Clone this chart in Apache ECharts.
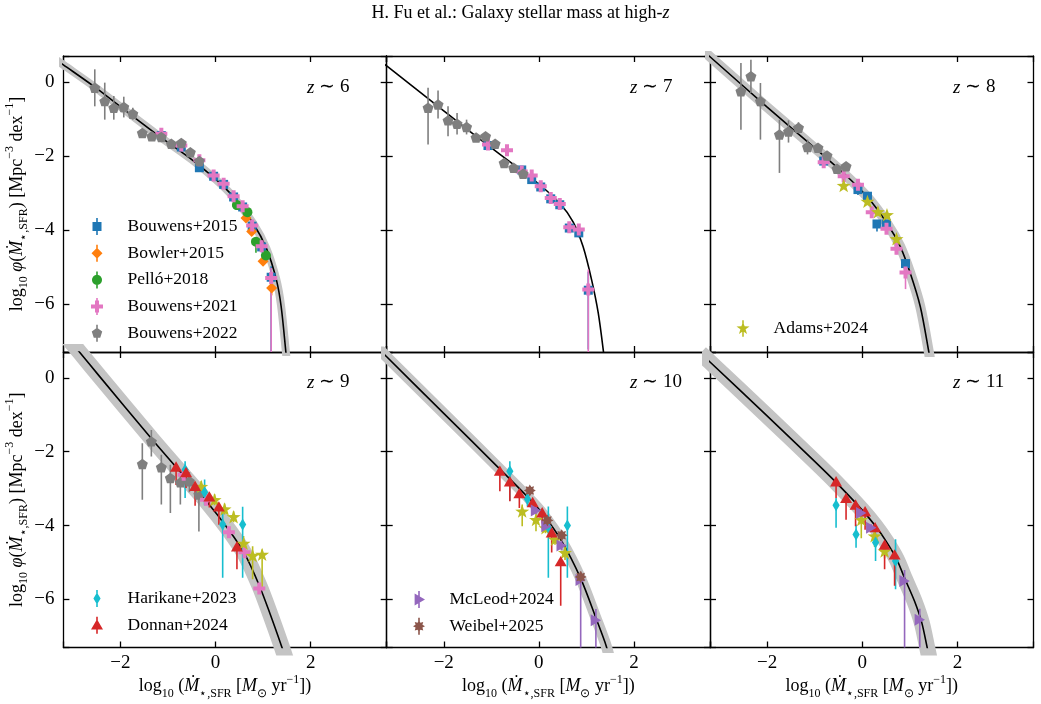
<!DOCTYPE html>
<html>
<head>
<meta charset="utf-8">
<script src="https://cdn.jsdelivr.net/npm/echarts@6/dist/echarts.min.js"></script>
<style>html,body{margin:0;padding:0;background:#fff}#chart{width:1041px;height:704px}</style>
</head>
<body>
<div id="chart"></div>
<script>
// model curves [log SFR, log phi]
const curve_z6 = [[-3.4,0.64],[-3.2,0.46],[-2.55,-0.13],[-1.9,-0.77],[-1.17,-1.48],[-0.5,-2.1],[0.0,-2.63],[0.37,-3.10],[0.79,-3.82],[1.07,-4.50],[1.28,-5.35],[1.38,-6.07],[1.48,-7.31],[1.51,-7.7]];
const curve_z7 = [[-3.4,0.63],[-3.2,0.43],[-2.2,-0.58],[-1.31,-1.48],[-0.40,-2.36],[0.02,-2.78],[0.44,-3.28],[0.72,-3.78],[0.93,-4.45],[1.11,-5.35],[1.25,-6.25],[1.36,-7.3],[1.39,-7.7]];
const curve_z8 = [[-3.4,0.9],[-3.2,0.68],[-2.01,-0.67],[-0.95,-1.84],[-0.39,-2.47],[0.10,-3.10],[0.52,-3.82],[0.80,-4.45],[1.01,-5.17],[1.22,-6.07],[1.40,-7.3],[1.45,-7.7]];
const curve_z9 = [[-3.3,1.38],[-2.85,0.68],[-2.44,0.04],[-1.35,-1.64],[-0.69,-2.62],[-0.2,-3.33],[0.28,-4.12],[0.61,-4.76],[0.92,-5.62],[1.15,-6.40],[1.39,-7.27],[1.5,-7.7]];
const curve_z10 = [[-3.4,0.83],[-3.2,0.57],[-2.0,-0.96],[-0.82,-2.47],[-0.24,-3.22],[0.07,-3.66],[0.48,-4.42],[0.88,-5.43],[1.2,-6.5],[1.42,-7.27],[1.5,-7.7]];
const curve_z11 = [[-3.4,0.67],[-3.2,0.43],[-2.0,-1.03],[-1.0,-2.26],[-0.55,-2.83],[0.0,-3.58],[0.27,-4.0],[0.5,-4.42],[0.72,-4.90],[0.9,-5.45],[1.1,-6.05],[1.25,-6.62],[1.36,-7.27],[1.43,-7.7]];

// observations [x, y, errDown, errUp]
const bouwens15_z6 = [[-1.14,-1.45,0.08,0.08],[-0.72,-1.76,0.08,0.08],[-0.34,-2.32,0.08,0.08],[-0.04,-2.55,0.08,0.08],[0.17,-2.77,0.08,0.08],[0.38,-3.11,0.08,0.08],[0.57,-3.38,0.1,0.1],[0.77,-3.90,0.12,0.12],[0.97,-4.46,0.15,0.15],[1.17,-5.28,3.0,0.3]];
const bowler15_z6 = [[0.64,-3.68,0.1,0.1],[0.76,-4.04,0.1,0.1],[1.0,-4.85,0.12,0.12],[1.18,-5.57,0.2,0.2]];
const pello18_z6 = [[0.45,-3.33,0.1,0.1],[0.67,-3.52,0.1,0.1],[0.85,-4.32,0.3,0.1],[1.06,-4.69,0.15,0.15]];
const bouwens21_z6 = [[-1.14,-1.40,0.08,0.08],[-0.72,-1.72,0.08,0.08],[-0.34,-2.12,0.08,0.08],[-0.04,-2.53,0.08,0.08],[0.17,-2.75,0.08,0.08],[0.38,-3.09,0.08,0.08],[0.57,-3.36,0.1,0.1],[0.77,-3.88,0.1,0.1],[0.97,-4.44,0.12,0.12],[1.17,-5.30,3.0,0.27]];
const bouwens22_z6 = [[-2.54,-0.16,0.5,0.5],[-2.33,-0.52,0.5,0.5],[-2.14,-0.70,0.32,0.32],[-1.93,-0.68,0.28,0.28],[-1.74,-0.86,0.16,0.16],[-1.54,-1.38,0.1,0.1],[-1.34,-1.47,0.1,0.1],[-1.14,-1.49,0.08,0.08],[-0.93,-1.67,0.08,0.08],[-0.72,-1.65,0.1,0.1],[-0.53,-1.90,0.08,0.08],[-0.34,-2.14,0.1,0.1]];

const bouwens15_z7 = [[-1.07,-1.72,0.1,0.1],[-0.36,-2.38,0.08,0.08],[-0.15,-2.64,0.08,0.08],[0.04,-2.84,0.08,0.08],[0.25,-3.16,0.08,0.08],[0.44,-3.32,0.08,0.08],[0.64,-3.95,0.1,0.1],[0.84,-4.08,0.12,0.12],[1.04,-5.63,1.6,0.5]];
const bouwens21_z7 = [[-1.07,-1.69,0.1,0.1],[-0.67,-1.85,0.08,0.08],[-0.36,-2.42,0.08,0.08],[-0.15,-2.53,0.08,0.08],[0.04,-2.82,0.08,0.08],[0.25,-3.14,0.08,0.08],[0.44,-3.30,0.08,0.08],[0.64,-3.93,0.1,0.1],[0.84,-3.99,0.1,0.1],[1.04,-5.61,2.2,0.54]];
const bouwens22_z7 = [[-2.33,-0.70,0.99,0.54],[-2.12,-0.61,0.38,0.38],[-1.91,-1.04,0.43,0.38],[-1.72,-1.13,0.29,0.29],[-1.52,-1.22,0.2,0.2],[-1.32,-1.50,0.1,0.1],[-1.12,-1.47,0.1,0.1],[-0.92,-1.67,0.08,0.08],[-0.73,-2.19,0.08,0.08],[-0.53,-2.32,0.08,0.08],[-0.33,-2.48,0.08,0.08]];

const bouwens15_z8 = [[-0.81,-2.14,0.1,0.1],[-0.09,-2.91,0.15,0.1],[0.11,-3.09,0.08,0.08],[0.31,-3.84,0.2,0.1],[0.51,-3.84,0.1,0.1],[0.91,-4.91,0.1,0.1]];
const bouwens21_z8 = [[-0.81,-2.17,0.12,0.1],[-0.39,-2.55,0.1,0.1],[-0.09,-2.78,0.1,0.1],[0.20,-3.52,0.1,0.1],[0.51,-3.97,0.1,0.1],[0.72,-4.51,0.15,0.1],[0.91,-5.15,0.45,0.1]];
const bouwens22_z8 = [[-2.55,-0.25,1.04,0.76],[-2.34,0.15,0.45,0.45],[-2.14,-0.52,1.04,0.49],[-1.74,-1.42,1.04,0.4],[-1.55,-1.34,0.3,0.3],[-1.34,-1.24,0.15,0.15],[-1.15,-1.76,0.2,0.2],[-0.93,-1.78,0.1,0.1],[-0.74,-1.99,0.1,0.1],[-0.53,-2.35,0.1,0.1],[-0.34,-2.28,0.1,0.1]];
const adams24_z8 = [[-0.39,-2.80,0.1,0.1],[0.11,-3.23,0.1,0.1],[0.33,-3.51,0.1,0.1],[0.52,-3.59,0.1,0.1],[0.72,-4.24,0.1,0.1]];

const bouwens22_z9 = [[-1.54,-2.33,0.97,0.56],[-1.35,-1.72,0.41,0.31],[-1.14,-2.42,1.01,0.34],[-0.95,-2.71,0.95,0.36],[-0.74,-2.83,0.6,0.25],[-0.55,-2.80,0.3,0.25],[-0.35,-3.16,1.0,0.2]];
const bouwens21_z9 = [[-0.67,-2.62,0.15,0.15],[-0.20,-3.30,0.15,0.15],[0.28,-4.18,0.15,0.15],[0.61,-4.72,0.15,0.15],[0.92,-5.70,0.15,0.15]];
const adams24_z9 = [[-0.30,-2.94,0.15,0.15],[-0.02,-3.30,0.15,0.15],[0.19,-3.55,0.15,0.15],[0.38,-3.76,0.15,0.15],[0.59,-4.48,0.2,0.2],[0.78,-4.81,0.64,0.25],[0.98,-4.78,0.94,0.13]];
const harikane23_z9 = [[-0.64,-2.49,0.76,0.23],[-0.23,-3.1,0.35,0.35],[0.15,-3.97,1.44,0.45],[0.57,-3.97,1.44,0.48]];
const donnan24_z9 = [[-0.83,-2.40,0.5,0.05],[-0.62,-2.55,0.43,0.05],[-0.43,-2.92,0.54,0.05],[-0.13,-3.21,0.3,0.05],[0.07,-3.48,0.5,0.05],[0.45,-4.56,0.62,0.05]];

const adams24_z10 = [[-0.35,-3.61,0.41,0.18],[-0.06,-3.84,0.31,0.15],[0.14,-4.06,0.15,0.15],[0.34,-4.37,0.15,0.15],[0.55,-4.73,0.2,0.15]];
const harikane23_z10 = [[-0.61,-2.53,0.8,0.27],[-0.24,-3.28,0.2,0.2],[0.20,-4.05,1.36,0.57],[0.60,-4.0,1.41,0.52]];
const donnan24_z10 = [[-0.82,-2.51,0.56,0.05],[-0.61,-2.80,0.54,0.05],[-0.41,-3.12,0.4,0.05],[-0.13,-3.36,0.3,0.05],[0.07,-3.64,0.3,0.05],[0.27,-4.18,0.55,0.05],[0.46,-4.96,1.21,0.05]];
const mcleod24_z10 = [[-0.06,-3.59,0.1,0.1],[0.16,-4.02,0.1,0.1],[0.48,-4.54,0.12,0.12],[0.88,-5.47,2.0,0.2],[1.20,-6.56,1.0,0.3]];
const weibel25_z10 = [[-0.19,-3.05,0.12,0.12],[0.18,-3.86,0.12,0.12],[0.48,-4.26,0.12,0.12],[0.88,-5.39,0.15,0.15]];

const adams24_z11 = [[-0.02,-3.84,0.5,0.1],[0.26,-4.28,0.3,0.1],[0.47,-4.69,0.2,0.1]];
const harikane23_z11 = [[-0.55,-3.45,0.61,0.2],[-0.13,-4.24,0.36,0.27],[0.28,-4.46,0.5,0.27],[0.70,-4.96,0.76,0.59]];
const donnan24_z11 = [[-0.55,-2.80,0.45,0.05],[-0.34,-3.25,0.59,0.05],[-0.14,-3.43,0.59,0.05],[0.06,-3.61,0.5,0.05],[0.27,-4.04,0.4,0.05],[0.47,-4.51,0.67,0.05],[0.68,-4.78,0.85,0.05]];
const mcleod24_z11 = [[-0.02,-3.66,0.1,0.1],[0.19,-4.06,0.1,0.1],[0.89,-5.50,2.0,0.3],[1.21,-6.55,1.0,0.3]];

const FONT = 'Liberation Serif';

function starPts(n, inner) {
  const pts = [];
  for (let k = 0; k < 2 * n; k++) {
    const a = -Math.PI / 2 + k * Math.PI / n;
    const r = k % 2 ? inner : 1;
    pts.push([r * Math.cos(a), r * Math.sin(a)]);
  }
  return pts;
}
function ngon(n) {
  const pts = [];
  for (let k = 0; k < n; k++) {
    const a = -Math.PI / 2 + k * 2 * Math.PI / n;
    pts.push([Math.cos(a), Math.sin(a)]);
  }
  return pts;
}
function poly(pts, r) {
  return pts.map((p, i) => (i ? 'L' : 'M') + (p[0] * r).toFixed(2) + ',' + (p[1] * r).toFixed(2)).join('') + 'Z';
}

const shapes = {
  square: [[-1,-1],[1,-1],[1,1],[-1,1]],
  diamond: [[0,-1],[1,0],[0,1],[-1,0]],
  thinDiamond: [[0,-1],[0.6,0],[0,1],[-0.6,0]],
  circle: ngon(24),
  plus: [[-1,-3],[1,-3],[1,-1],[3,-1],[3,1],[1,1],[1,3],[-1,3],[-1,1],[-3,1],[-3,-1],[-1,-1]].map(p => [p[0]/3, p[1]/3]),
  pentagon: ngon(5),
  star5: starPts(5, 0.4),
  star8: starPts(8, 0.62),
  triUp: [[0,-1],[1,0.73],[-1,0.73]],
  triRight: [[1,0],[-0.73,1],[-0.73,-1]]
};

const surveys = {
  'Bouwens+2015': {color: '#1f77b4', shape: 'square', size: 9},
  'Bowler+2015': {color: '#ff7f0e', shape: 'diamond', size: 11},
  'Pelló+2018': {color: '#2ca02c', shape: 'circle', size: 10},
  'Bouwens+2021': {color: '#e377c2', shape: 'plus', size: 12},
  'Bouwens+2022': {color: '#7f7f7f', shape: 'pentagon', size: 11},
  'Adams+2024': {color: '#bcbd22', shape: 'star5', size: 14},
  'Harikane+2023': {color: '#17becf', shape: 'thinDiamond', size: 12},
  'Donnan+2024': {color: '#d62728', shape: 'triUp', size: 12},
  'McLeod+2024': {color: '#9467bd', shape: 'triRight', size: 12},
  'Weibel+2025': {color: '#8c564b', shape: 'star8', size: 12}
};

const panels = [
  {label: '6', curve: curve_z6, band: 8, sets: [['Bouwens+2015', bouwens15_z6], ['Bowler+2015', bowler15_z6], ['Pelló+2018', pello18_z6], ['Bouwens+2021', bouwens21_z6], ['Bouwens+2022', bouwens22_z6]]},
  {label: '7', curve: curve_z7, band: 0, sets: [['Bouwens+2015', bouwens15_z7], ['Bouwens+2021', bouwens21_z7], ['Bouwens+2022', bouwens22_z7]]},
  {label: '8', curve: curve_z8, band: 10, sets: [['Bouwens+2015', bouwens15_z8], ['Bouwens+2021', bouwens21_z8], ['Bouwens+2022', bouwens22_z8], ['Adams+2024', adams24_z8]]},
  {label: '9', curve: curve_z9, band: 16, sets: [['Bouwens+2022', bouwens22_z9], ['Bouwens+2021', bouwens21_z9], ['Adams+2024', adams24_z9], ['Harikane+2023', harikane23_z9], ['Donnan+2024', donnan24_z9]]},
  {label: '10', curve: curve_z10, band: 11, sets: [['Adams+2024', adams24_z10], ['Harikane+2023', harikane23_z10], ['Donnan+2024', donnan24_z10], ['McLeod+2024', mcleod24_z10], ['Weibel+2025', weibel25_z10]]},
  {label: '11', curve: curve_z11, band: 16, sets: [['Adams+2024', adams24_z11], ['Harikane+2023', harikane23_z11], ['Donnan+2024', donnan24_z11], ['McLeod+2024', mcleod24_z11]]}
];

const lefts = [63.4, 386.7, 710];
const widths = [323.3, 323.3, 323.5];
const tops = [56, 352];
const heights = [296, 295.5];

const rich = {
  t: {fontFamily: FONT, fontSize: 18, lineHeight: 26, color: '#000'},
  i: {fontFamily: FONT, fontSize: 18, lineHeight: 26, fontStyle: 'italic', color: '#000'},
  s: {fontFamily: FONT, fontSize: 12, lineHeight: 14, verticalAlign: 'bottom', color: '#000'},
  p: {fontFamily: FONT, fontSize: 12, lineHeight: 14, verticalAlign: 'top', color: '#000'}
};
const yName = '{t|log}{s|10}{t| }{i|φ}{t|(}{i|Ṁ}{s|⋆,SFR}{t|) [Mpc}{p|−3}{t| dex}{p|−1}{t|]}';
const xName = '{t|log}{s|10}{t| (}{i|Ṁ}{s|⋆,SFR}{t| [}{i|M}{s|⊙}{t| yr}{p|−1}{t|])}';

function tickFmt(v) {
  if (Math.abs(v / 2 - Math.round(v / 2)) > 1e-6) return '';
  return v < 0 ? '−' + Math.abs(v) : String(Math.round(v));
}

const line = {lineStyle: {color: '#000', width: 1.3}};
const grids = [], xAxes = [], yAxes = [], series = [];
panels.forEach((p, i) => {
  const col = i % 3, row = Math.floor(i / 3);
  grids.push({left: lefts[col], top: tops[row], width: widths[col], height: heights[row]});
});
[0, 1].forEach(side => {
  panels.forEach((p, i) => {
    const col = i % 3, row = Math.floor(i / 3);
    const showX = side === 0 && row === 1;
    const showY = side === 0 && col === 0;
    xAxes.push({
      type: 'value', gridIndex: i, position: side ? 'top' : 'bottom', min: -3.2, max: 3.6,
      splitNumber: 3, minInterval: 2, maxInterval: 2,
      axisLine: {show: true, onZero: false, ...line},
      axisTick: {show: true, inside: true, length: 6, ...line},
      axisLabel: {show: showX, formatter: tickFmt, fontFamily: FONT, fontSize: 19, color: '#000', margin: 6},
      splitLine: {show: false},
      name: showX ? xName : '', nameLocation: 'middle', nameGap: 22,
      nameTextStyle: {rich: rich}
    });
    yAxes.push({
      type: 'value', gridIndex: i, position: side ? 'right' : 'left', min: -7.3, max: 0.7,
      splitNumber: 4, minInterval: 2, maxInterval: 2,
      axisLine: {show: true, onZero: false, ...line},
      axisTick: {show: true, inside: true, length: 6, ...line},
      axisLabel: {show: showY, formatter: tickFmt, fontFamily: FONT, fontSize: 19, color: '#000', margin: 9},
      splitLine: {show: false},
      name: showY ? yName : '', nameLocation: 'middle', nameGap: 29, nameRotate: 90,
      nameTextStyle: {rich: rich}
    });
  });
});

panels.forEach((p, i) => {
  if (p.band) {
    series.push({type: 'line', xAxisIndex: i, yAxisIndex: i, data: p.curve, smooth: 0.3,
      symbol: 'none', silent: true, z: 1, lineStyle: {color: '#c4c4c4', width: p.band, cap: 'butt'}});
  }
  series.push({type: 'line', xAxisIndex: i, yAxisIndex: i, data: p.curve, smooth: 0.3,
    symbol: 'none', silent: true, z: 2, lineStyle: {color: '#000', width: 1.6}});
  p.sets.forEach(([name, pts]) => {
    const s = surveys[name];
    series.push({
      type: 'custom', name: name, xAxisIndex: i, yAxisIndex: i, clip: true, z: 3, silent: true,
      itemStyle: {color: s.color},
      data: pts.map(d => [d[0], d[1] - d[2], d[1] + d[3]]),
      encode: {x: 0, y: [1, 2]},
      renderItem: (params, api) => {
        const a = api.coord([api.value(0), api.value(1)]);
        const b = api.coord([api.value(0), api.value(2)]);
        return {type: 'line', shape: {x1: a[0], y1: a[1], x2: b[0], y2: b[1]}, style: {stroke: s.color, lineWidth: 1.6}};
      }
    });
    series.push({
      type: 'scatter', name: name, xAxisIndex: i, yAxisIndex: i, z: 3, silent: true,
      data: pts.map(d => [d[0], d[1]]),
      symbol: 'path://' + poly(shapes[s.shape], 10), symbolSize: s.size, symbolKeepAspect: true,
      itemStyle: {color: s.color, opacity: 1}
    });
  });
});

function legendIcon(name) {
  const s = surveys[name];
  return 'path://' + poly(shapes[s.shape], s.size / 2) +
    'M-0.8,-8.5L0.8,-8.5L0.8,8.5L-0.8,8.5Z' +
    'M-6.5,0L-6.5,0.01L-6.5,0ZM6.5,0L6.5,0.01L6.5,0Z';
}
function legendAt(names, left, top) {
  return {
    left: left, top: top, orient: 'vertical', padding: 0, itemGap: 8.7, itemWidth: 13, itemHeight: 17,
    selectedMode: false,
    data: names.map(n => ({name: n, icon: legendIcon(n), itemStyle: {color: surveys[n].color}})),
    textStyle: {fontFamily: FONT, fontSize: 17.5, color: '#000', lineHeight: 17, padding: [0, 0, 0, 19]}
  };
}

const zLabels = [[307, 78], [630, 78], [953, 78], [307, 373], [630, 373], [953, 373]];
const titles = [{
  text: 'H. Fu et al.: Galaxy stellar mass at high-{i|z}', left: 'center', top: 4, padding: 0,
  textStyle: {fontFamily: FONT, fontSize: 18, fontWeight: 'normal', color: '#000',
    rich: {i: {fontFamily: FONT, fontSize: 18, fontStyle: 'italic', color: '#000'}}}
}];
panels.forEach((p, i) => {
  titles.push({
    text: '{i|z} ∼ ' + p.label, left: zLabels[i][0], top: zLabels[i][1], padding: 0,
    textStyle: {fontFamily: FONT, fontSize: 19, fontWeight: 'normal', color: '#000',
      rich: {i: {fontFamily: FONT, fontSize: 19, fontStyle: 'italic', color: '#000'}}}
  });
});

const myChart = echarts.init(document.getElementById('chart'));
myChart.setOption({
  animation: false,
  backgroundColor: '#fff',
  textStyle: {fontFamily: FONT},
  title: titles,
  grid: grids,
  xAxis: xAxes,
  yAxis: yAxes,
  legend: [
    legendAt(['Bouwens+2015', 'Bowler+2015', 'Pelló+2018', 'Bouwens+2021', 'Bouwens+2022'], 90.5, 217.5),
    legendAt(['Adams+2024'], 736.5, 319.5),
    legendAt(['Harikane+2023', 'Donnan+2024'], 90.5, 589.5),
    legendAt(['McLeod+2024', 'Weibel+2025'], 412.5, 590.5)
  ],
  series: series
});
</script>
</body>
</html>
